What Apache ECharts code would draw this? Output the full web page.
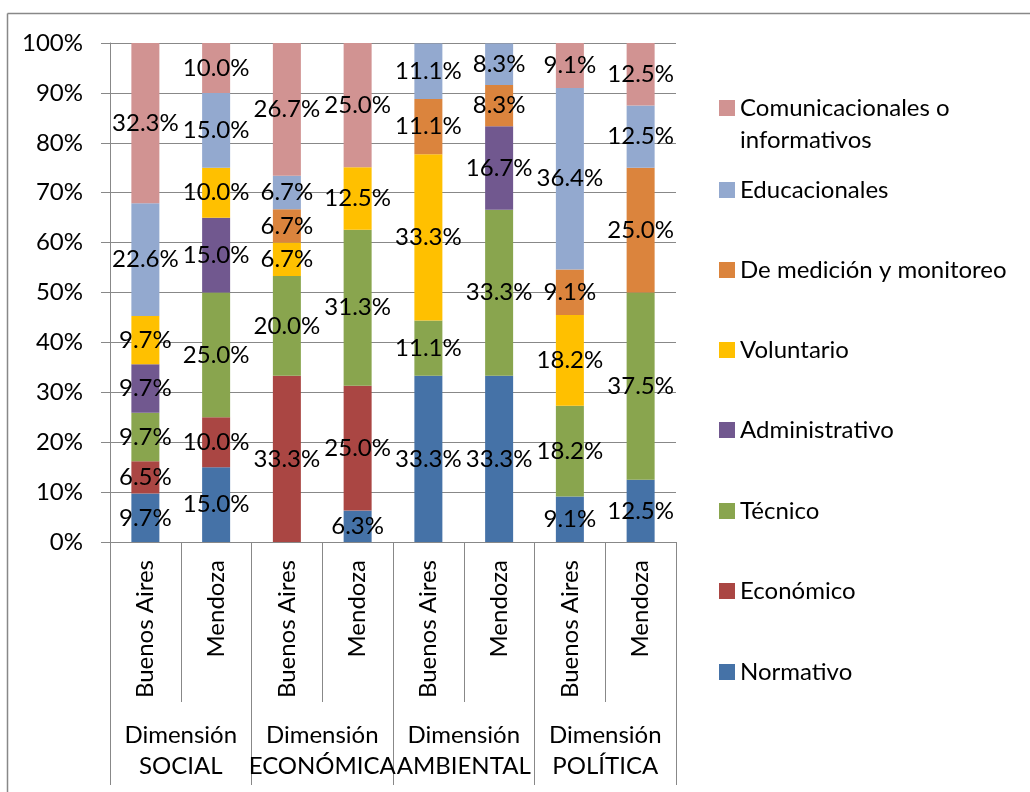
<!DOCTYPE html>
<html>
<head>
<meta charset="utf-8">
<script src="https://cdn.jsdelivr.net/npm/echarts@6/dist/echarts.min.js"></script>
<style>
html,body{margin:0;padding:0;background:#fff;}
#chart{width:1030px;height:792px;}
</style>
</head>
<body>
<div id="chart"></div>
<script>
const cities = ['Buenos Aires','Mendoza','Buenos Aires','Mendoza','Buenos Aires','Mendoza','Buenos Aires','Mendoza'];
const dimensions = ['Dimensión\nSOCIAL','Dimensión\nECONÓMICA','Dimensión\nAMBIENTAL','Dimensión\nPOLÍTICA'];
const yTicks = [0,10,20,30,40,50,60,70,80,90,100];

const normativo        = [9.7, 15.0, 0,    6.3,  33.3, 33.3, 9.1,  12.5];
const economico        = [6.5, 10.0, 33.3, 25.0, 0,    0,    0,    0];
const tecnico          = [9.7, 25.0, 20.0, 31.3, 11.1, 33.3, 18.2, 37.5];
const administrativo   = [9.7, 15.0, 0,    0,    0,    16.7, 0,    0];
const voluntario       = [9.7, 10.0, 6.7,  12.5, 33.3, 0,    18.2, 0];
const medicion         = [0,   0,    6.7,  0,    11.1, 8.3,  9.1,  25.0];
const educacionales    = [22.6,15.0, 6.7,  0,    11.1, 8.3,  36.4, 12.5];
const comunicacionales = [32.3,10.0, 26.7, 25.0, 0,    0,    9.1,  12.5];

const seriesNames = ['Normativo','Económico','Técnico','Administrativo','Voluntario','De medición y monitoreo','Educacionales','Comunicacionales o informativos'];
const seriesData = [normativo, economico, tecnico, administrativo, voluntario, medicion, educacionales, comunicacionales];
const colors = ['#4572A7','#AA4643','#89A54E','#71588F','#FFC000','#DB843D','#93A9CF','#D19392'];

const FONT = 'Lato';
const FS = 24;
const GRAY = '#888888';

const series = seriesNames.map((n, i) => ({
  name: n,
  type: 'bar',
  stack: 'total',
  barWidth: 28,
  xAxisIndex: 0,
  data: seriesData[i],
  itemStyle: { color: colors[i] },
  label: {
    show: true,
    position: 'inside',
    color: '#000',
    fontFamily: FONT,
    fontSize: FS,
    formatter: p => (p.value ? p.value.toFixed(1) + '%' : '')
  }
}));

// legend (top-to-bottom order reversed from stacking)
const legendOrder = [7,6,5,4,3,2,1,0];
const legendCenters = [108, 190, 270, 350, 430, 511, 591, 672];
const legends = legendOrder.map((si, k) => {
  const lg = {
    orient: 'vertical',
    left: 719,
    top: legendCenters[k] - 15,
    itemWidth: 16,
    itemHeight: 16,
    itemGap: 0,
    padding: 0,
    icon: 'rect',
    selectedMode: false,
    data: [seriesNames[si]],
    textStyle: { fontFamily: FONT, fontSize: FS, lineHeight: 30, color: '#000' }
  };
  if (si === 7) {
    lg.top = legendCenters[k] - 48;
    lg.formatter = () => '{e| }\n{a|Comunicacionales o}\n{a|informativos}';
    lg.textStyle.rich = {
      e: { fontFamily: FONT, fontSize: FS, lineHeight: 32, color: '#000' },
      a: { fontFamily: FONT, fontSize: FS, lineHeight: 32, color: '#000' }
    };
  }
  return lg;
});

const chart = echarts.init(document.getElementById('chart'));
chart.setOption({
  animation: false,
  backgroundColor: '#fff',
  color: colors,
  grid: { left: 110, right: 354, top: 43, bottom: 250, containLabel: false },
  legend: legends,
  xAxis: [
    {
      type: 'category',
      data: cities,
      position: 'bottom',
      axisLine: { show: true, lineStyle: { color: GRAY, width: 1 } },
      axisTick: { show: true, interval: 0, length: 160, lineStyle: { color: GRAY, width: 1 } },
      axisLabel: { interval: 0, rotate: 90, margin: 18, fontFamily: FONT, fontSize: FS, color: '#000' }
    },
    {
      type: 'category',
      data: dimensions,
      position: 'bottom',
      axisLine: { show: false },
      axisTick: { show: true, interval: 0, length: 243, lineStyle: { color: GRAY, width: 1 } },
      axisLabel: { interval: 0, margin: 178, fontFamily: FONT, fontSize: FS, lineHeight: 31, color: '#000' }
    }
  ],
  yAxis: {
    type: 'value',
    min: yTicks[0],
    max: yTicks[yTicks.length - 1],
    interval: 10,
    axisLine: { show: true, lineStyle: { color: GRAY, width: 1 } },
    axisTick: { show: true, length: 9, lineStyle: { color: GRAY, width: 1 } },
    splitLine: { show: true, lineStyle: { color: GRAY, width: 1 } },
    axisLabel: { margin: 27, formatter: '{value}%', fontFamily: FONT, fontSize: FS, color: '#000' }
  },
  graphic: [
    { type: 'line', shape: { x1: 7.5, y1: 13.5, x2: 1030, y2: 13.5 }, style: { stroke: GRAY, lineWidth: 1.5 } },
    { type: 'line', shape: { x1: 7.5, y1: 13.5, x2: 7.5, y2: 792 }, style: { stroke: GRAY, lineWidth: 1.5 } }
  ],
  series: series
});
</script>
</body>
</html>
